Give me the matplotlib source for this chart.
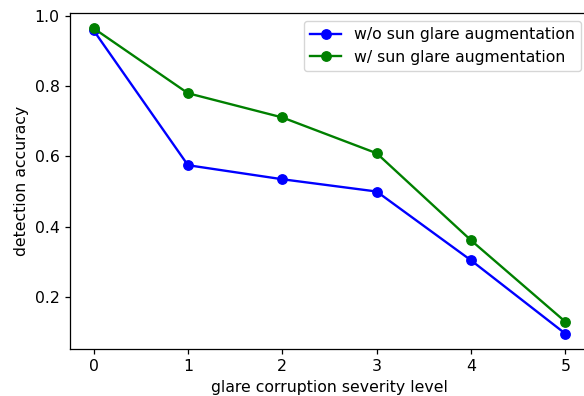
import matplotlib
matplotlib.use("Agg")
import matplotlib.pyplot as plt

levels = [0, 1, 2, 3, 4, 5]
without_aug = [0.959, 0.575, 0.535, 0.500, 0.304, 0.095]
with_aug = [0.965, 0.780, 0.711, 0.609, 0.361, 0.129]

s = 1.13
plt.rcParams.update({
    'font.size': 10 * s,
    'lines.linewidth': 1.5 * s,
    'lines.markersize': 6 * s,
    'axes.linewidth': 0.8 * s,
    'xtick.major.size': 3.5 * s,
    'ytick.major.size': 3.5 * s,
    'xtick.major.width': 0.8 * s,
    'ytick.major.width': 0.8 * s,
})

fig = plt.figure(figsize=(5.84, 3.96), dpi=100)
ax = fig.add_axes([70 / 584, 1 - 349 / 396, (589 - 70) / 584, (349 - 13) / 396])
ax.plot(levels, without_aug, 'b-o', label='w/o sun glare augmentation')
ax.plot(levels, with_aug, 'g-o', label='w/ sun glare augmentation')
ax.set_xlabel('glare corruption severity level')
ax.set_ylabel('detection accuracy')
ax.legend(loc='upper right')
fig.savefig('out.png')
